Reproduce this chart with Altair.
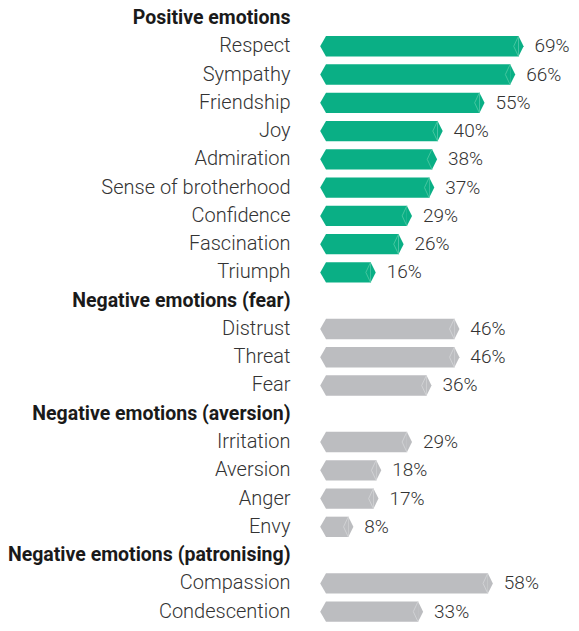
import altair as alt
import pandas as pd

headers = [
    "Positive emotions",
    "Negative emotions (fear)",
    "Negative emotions (aversion)",
    "Negative emotions (patronising)",
]
categories = [
    "Respect", "Sympathy", "Friendship", "Joy", "Admiration",
    "Sense of brotherhood", "Confidence", "Fascination", "Triumph",
    "Distrust", "Threat", "Fear",
    "Irritation", "Aversion", "Anger", "Envy",
    "Compassion", "Condescention",
]
values = [69, 66, 55, 40, 38, 37, 29, 26, 16, 46, 46, 36, 29, 18, 17, 8, 58, 33]
groups = (
    ["Positive emotions"] * 9
    + ["Negative emotions (fear)"] * 3
    + ["Negative emotions (aversion)"] * 4
    + ["Negative emotions (patronising)"] * 2
)

rows = []
for h in headers:
    rows.append(h)
    rows += [c for c, g in zip(categories, groups) if g == h]

df = pd.DataFrame({"row": categories, "value": values, "group": groups})
df["kind"] = ["positive" if g == headers[0] else "negative" for g in groups]
df["label"] = [f"{v}%" for v in values]
df["zero"] = 0

GREEN = "#0aaf85"
GRAY = "#bcbdc0"
FONT = "Roboto"
H = 614
PI = 0.28
STEP = H / (len(rows) - PI)
BH = STEP * (1 - PI)
YOFF = 10 - BH / 2

header_list = "[" + ",".join("'" + h + "'" for h in headers) + "]"
is_header = f"indexof({header_list}, datum.value) >= 0"

yscale = alt.Scale(domain=rows, paddingInner=PI, paddingOuter=0)
xscale = alt.Scale(domain=[0, 241 / 2.79], nice=False, zero=True)

color = alt.Color("kind:N", scale=alt.Scale(domain=["positive", "negative"], range=[GREEN, GRAY]), legend=None)

yaxis = alt.Axis(
    title=None, domain=False, ticks=False, grid=False,
    labelPadding=36, minExtent=318, maxExtent=318, labelLimit=400,
    labelFont=FONT, labelOffset=YOFF,
    labelFontSize=alt.ExprRef(f"{is_header} ? 19.5 : 20"),
    labelColor=alt.ExprRef(f"{is_header} ? '#1a1a1a' : '#333333'"),
    labelFontWeight=alt.ExprRef(f"{is_header} ? 'bold' : 300"),
)
Y = alt.Y("row:N", scale=yscale, sort=rows, axis=yaxis)

base = alt.Chart(df)

bars = base.mark_bar(yOffset=YOFF).encode(
    y=Y,
    x=alt.X("value:Q", scale=xscale, axis=None),
    color=color,
)

left_tip = base.mark_point(
    shape="M0,-1L-0.57,0L0,1Z", size=BH * BH, filled=True, opacity=1, strokeWidth=0, yOffset=YOFF
).encode(
    y=Y,
    x=alt.X("zero:Q", scale=xscale, axis=None),
    color=color,
)

right_tip = base.mark_point(
    shape="M0,-1L0.5,0L0,1Z", size=BH * BH, filled=True, opacity=1, strokeWidth=0, yOffset=YOFF
).encode(
    y=Y,
    x=alt.X("value:Q", scale=xscale, axis=None),
    color=color,
)

chevron = base.mark_point(
    shape="M0,-1L-0.47,0L0,1", size=BH * BH, filled=False, opacity=1, strokeWidth=0.9, yOffset=YOFF
).encode(
    y=Y,
    x=alt.X("value:Q", scale=xscale, axis=None),
    stroke=alt.condition("datum.kind == 'positive'", alt.value("#4cc8a2"), alt.value("#d3d4d6")),
)

labels = base.mark_text(
    align="left", baseline="middle", dx=16, yOffset=YOFF,
    font=FONT, fontSize=19, fontWeight=300, color="#333333"
).encode(
    y=Y,
    x=alt.X("value:Q", scale=xscale, axis=None),
    text="label:N",
)

chart = (
    alt.layer(bars, left_tip, right_tip, chevron, labels)
    .properties(
        width=241, height=H,
        padding={"left": 318, "top": 0, "right": 4, "bottom": 0},
        autosize=alt.AutoSizeParams(type="none"),
    )
    .configure_view(stroke=None)
)

chart.save("out.html", embed_options={"renderer": "svg", "actions": False})
